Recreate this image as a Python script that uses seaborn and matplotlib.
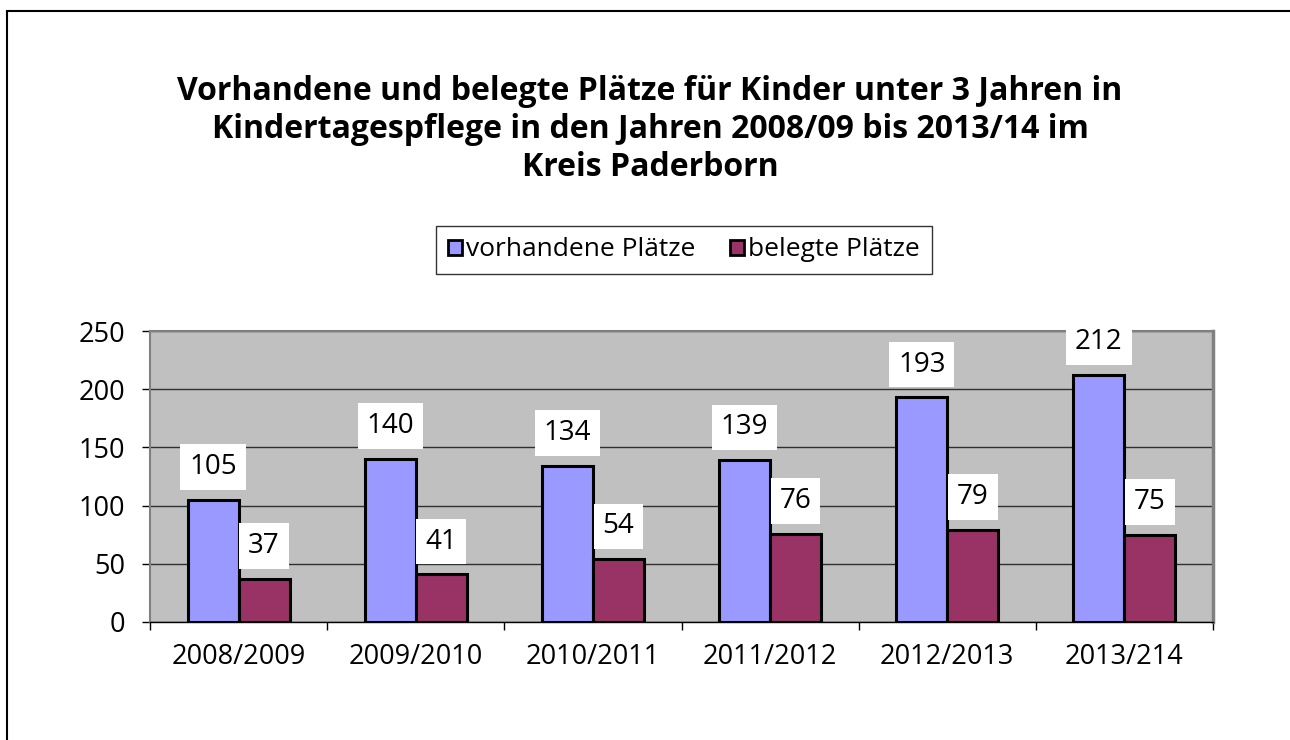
import matplotlib
matplotlib.use("Agg")
import matplotlib.pyplot as plt
import seaborn as sns
import pandas as pd
import numpy as np
from matplotlib.patches import Rectangle
from matplotlib.ticker import MultipleLocator, FixedLocator

categories = ["2008/2009", "2009/2010", "2010/2011", "2011/2012", "2012/2013", "2013/214"]
vorhandene = [105, 140, 134, 139, 193, 212]
belegte = [37, 41, 54, 76, 79, 75]
series_names = ["vorhandene Plätze", "belegte Plätze"]
colors = ["#9999FF", "#993366"]
title = ("Vorhandene und belegte Plätze für Kinder unter 3 Jahren in\n"
         "Kindertagespflege in den Jahren 2008/09 bis 2013/14 im\n"
         "Kreis Paderborn")

df = pd.DataFrame({
    "Jahr": categories * 2,
    "Wert": vorhandene + belegte,
    "Serie": [series_names[0]] * len(categories) + [series_names[1]] * len(categories),
})

sns.set_style("white")
plt.rcParams["font.family"] = ["Open Sans", "DejaVu Sans"]
plt.rcParams["text.color"] = "black"
plt.rcParams["xtick.color"] = "black"
plt.rcParams["ytick.color"] = "black"
plt.rcParams["axes.labelcolor"] = "black"

fig = plt.figure(figsize=(12.9, 7.4), dpi=100)
ax = fig.add_axes([150/1290, 1 - 622/740, (1213-150)/1290, (622-331)/740])

sns.barplot(data=df, x="Jahr", y="Wert", hue="Serie", palette=colors,
            width=0.576, gap=0, edgecolor="black", linewidth=2.2,
            saturation=1, ax=ax, legend=True)

ax.set_facecolor("#C0C0C0")
ax.set_ylim(0, 250)
ax.set_xlim(-0.5, len(categories) - 0.5)
ax.yaxis.set_major_locator(MultipleLocator(50))
ax.grid(axis="y", color="#303030", linewidth=1.0)
ax.set_axisbelow(True)
ax.set_xlabel("")
ax.set_ylabel("")

for s in ["top", "right", "left"]:
    ax.spines[s].set_color("#808080")
    ax.spines[s].set_linewidth(1.5)
ax.spines["right"].set_linewidth(2.5)
ax.spines["bottom"].set_color("black")
ax.spines["bottom"].set_linewidth(1.0)

ax.tick_params(axis="y", which="major", length=6, width=1, color="black",
               labelcolor="black", direction="out", left=True, labelsize=19.5, pad=12)
ax.tick_params(axis="x", which="major", length=0, labelsize=19.5, pad=15,
               labelcolor="black")
ax.xaxis.set_minor_locator(FixedLocator(np.arange(-0.5, len(categories), 1.0)))
ax.tick_params(axis="x", which="minor", length=6, width=1, color="black",
               direction="out", bottom=True)

for cont in ax.containers:
    ax.bar_label(cont, padding=13.5, fontsize=20, color="black",
                 bbox=dict(boxstyle="square,pad=0.32", facecolor="white", edgecolor="none"))

leg = ax.legend(loc="center", bbox_to_anchor=(684/1290, 1 - 250/740),
                bbox_transform=fig.transFigure, ncol=2, fontsize=19,
                frameon=True, fancybox=False, edgecolor="black",
                handlelength=0.55, handleheight=0.5, handletextpad=0.15,
                columnspacing=1.3, borderpad=0.45)
leg.get_frame().set_linewidth(1.0)
for t in leg.get_texts():
    t.set_color("black")
for h in leg.legend_handles:
    h.set_edgecolor("black")
    h.set_linewidth(2.0)

fig.text(650/1290, 1 - 75/740, title, ha="center", va="top", fontsize=23,
         fontweight="bold", linespacing=1.2, color="black")

fig.patches.append(Rectangle((7/1290, -0.1), 1.2, (740 - 11)/740 + 0.1,
                             transform=fig.transFigure, fill=False,
                             edgecolor="black", linewidth=1.5))

fig.savefig("out.png", dpi=100)
